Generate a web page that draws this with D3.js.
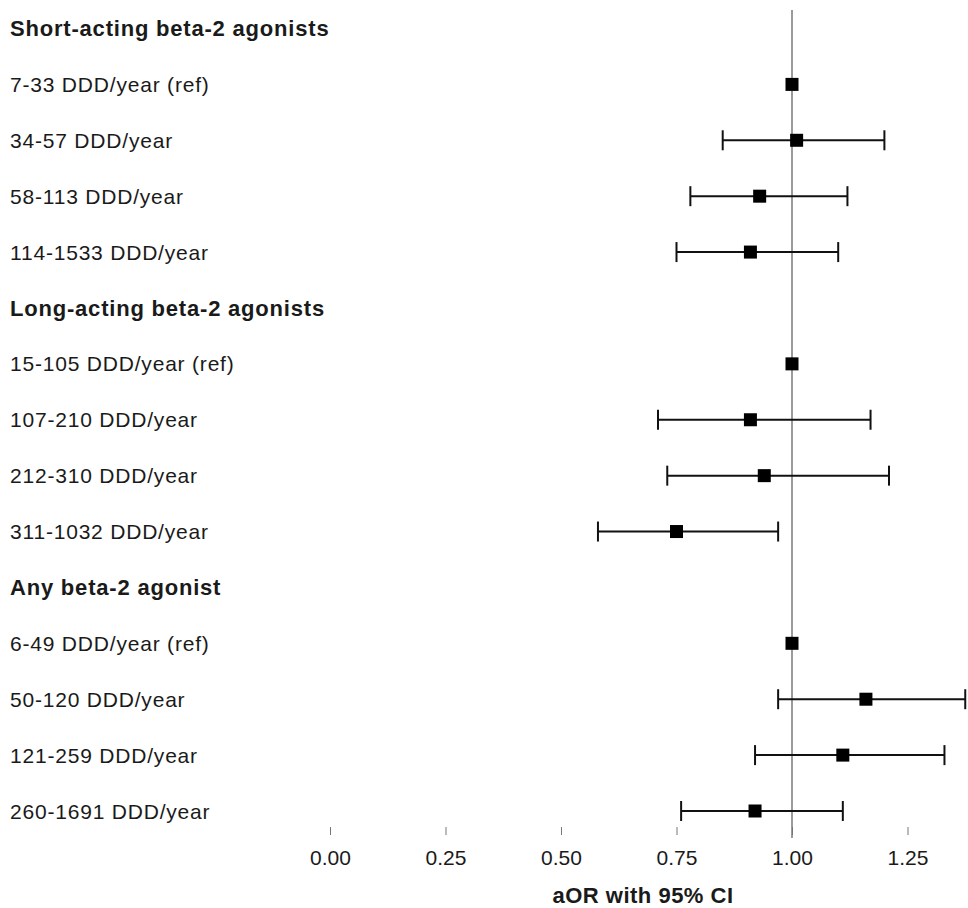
<!DOCTYPE html>
<html>
<head>
<meta charset="utf-8">
<script src="https://cdn.jsdelivr.net/npm/d3@7"></script>
<style>
  body { margin: 0; background: #fff; }
  text { font-family: "Liberation Sans", Arial, sans-serif; fill: #1a1a1a; }
</style>
</head>
<body>
<div id="chart"></div>
<script>
// rows, top to bottom (headers have no estimate)
const rowLabels = [
    "Short-acting beta-2 agonists",
    "7-33 DDD/year (ref)", "34-57 DDD/year", "58-113 DDD/year", "114-1533 DDD/year",
    "Long-acting beta-2 agonists",
    "15-105 DDD/year (ref)", "107-210 DDD/year", "212-310 DDD/year", "311-1032 DDD/year",
    "Any beta-2 agonist",
    "6-49 DDD/year (ref)", "50-120 DDD/year", "121-259 DDD/year", "260-1691 DDD/year"
]
const isHeader = [true, false, false, false, false, true, false, false, false, false, true, false, false, false, false]
const estimates = [null, 1.00, 1.01, 0.93, 0.91, null, 1.00, 0.91, 0.94, 0.75, null, 1.00, 1.16, 1.11, 0.92]
const lowerCI   = [null, null, 0.85, 0.78, 0.75, null, null, 0.71, 0.73, 0.58, null, null, 0.97, 0.92, 0.76]
const upperCI   = [null, null, 1.20, 1.12, 1.10, null, null, 1.17, 1.21, 0.97, null, null, 1.375, 1.33, 1.11]
const xTicks = [0, 0.25, 0.5, 0.75, 1.0, 1.25]

const WIDTH = 968
const HEIGHT = 908

const svg = d3.select("#chart")
    .append("svg")
    .attr("width", WIDTH)
    .attr("height", HEIGHT)

// x: value -> pixel (1.00 sits at 792, 0.25 step ~115.5px)
const x = d3.scaleLinear()
    .domain([0, 1.4])
    .range([330, 330 + 1.4 * 462])

const y = d3.scalePoint()
    .domain(d3.range(rowLabels.length))
    .range([28.5, 811])

const rows = rowLabels.map((label, i) => ({
    label, header: isHeader[i], est: estimates[i], lo: lowerCI[i], hi: upperCI[i], i
}))

// labels on the left
svg.append("g")
    .selectAll("text")
    .data(rows)
    .enter()
    .append("text")
    .attr("x", 10)
    .attr("y", d => y(d.i))
    .attr("dy", "0.36em")
    .style("font-size", d => d.header ? "22px" : "21px")
    .style("font-weight", d => d.header ? "bold" : "normal")
    .style("letter-spacing", d => d.header ? "0.8px" : "0.8px")
    .text(d => d.label)

// reference line at 1
svg.append("line")
    .attr("x1", x(1)).attr("x2", x(1))
    .attr("y1", 10).attr("y2", 838)
    .style("stroke", "#7a7a7a")
    .style("stroke-width", 1.5)

// error bars
const withCI = rows.filter(d => d.lo != null)
const bars = svg.append("g").selectAll("g")
    .data(withCI)
    .enter()
    .append("g")
    .style("stroke", "#111")
    .style("stroke-width", 2)

bars.append("line")
    .attr("x1", d => x(d.lo)).attr("x2", d => x(d.hi))
    .attr("y1", d => y(d.i)).attr("y2", d => y(d.i))
bars.append("line")
    .attr("x1", d => x(d.lo)).attr("x2", d => x(d.lo))
    .attr("y1", d => y(d.i) - 10).attr("y2", d => y(d.i) + 10)
bars.append("line")
    .attr("x1", d => x(d.hi)).attr("x2", d => x(d.hi))
    .attr("y1", d => y(d.i) - 10).attr("y2", d => y(d.i) + 10)

// point estimates
const sq = 13
svg.append("g")
    .selectAll("rect")
    .data(rows.filter(d => d.est != null))
    .enter()
    .append("rect")
    .attr("x", d => x(d.est) - sq / 2)
    .attr("y", d => y(d.i) - sq / 2)
    .attr("width", sq)
    .attr("height", sq)
    .style("fill", "#000")

// x axis
const xAxis = svg.append("g")
    .attr("transform", "translate(0,827)")
    .call(d3.axisBottom(x)
        .tickValues(xTicks)
        .tickFormat(d3.format(".2f"))
        .tickSize(8)
        .tickPadding(15))
xAxis.select(".domain").remove()
xAxis.selectAll(".tick line").style("stroke", "#777")
xAxis.selectAll(".tick text")
    .style("font-size", "21px")
    .style("font-family", "Liberation Sans, Arial, sans-serif")
    .style("fill", "#1a1a1a")

svg.append("text")
    .attr("x", 643)
    .attr("y", 903)
    .attr("text-anchor", "middle")
    .style("font-size", "22px")
    .style("font-weight", "bold")
    .style("letter-spacing", "0.5px")
    .text("aOR with 95% CI")
</script>
</body>
</html>
